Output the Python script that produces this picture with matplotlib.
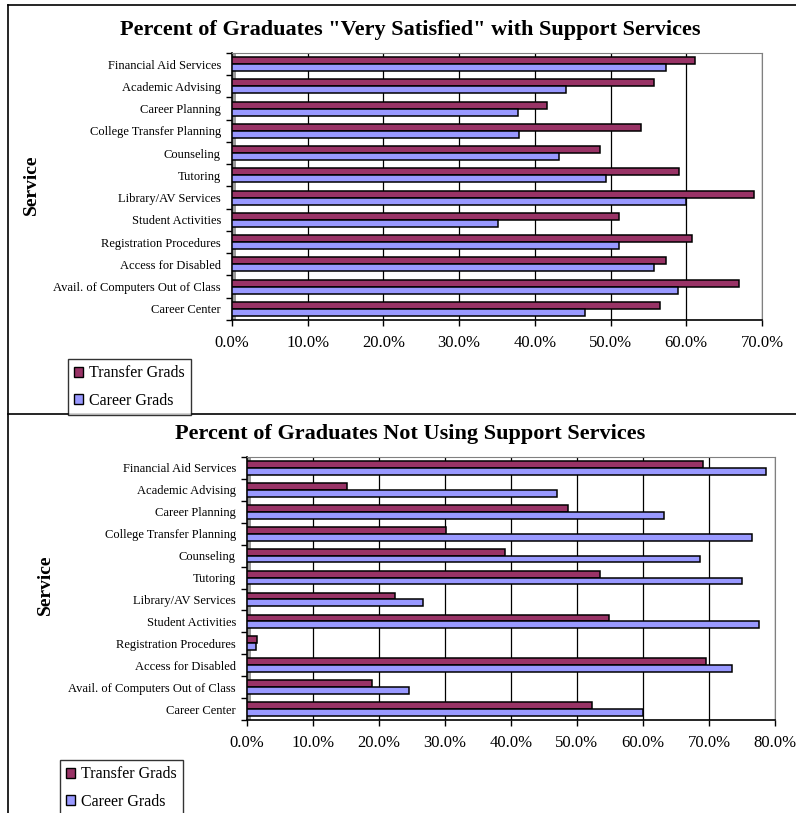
"""Two stacked horizontal bar charts: graduate satisfaction and non-use of support services."""

import matplotlib

matplotlib.use("Agg")

import matplotlib.pyplot as plt
import numpy as np
from matplotlib.lines import Line2D
from matplotlib.patches import Patch, Rectangle
from matplotlib.ticker import FuncFormatter, MultipleLocator

plt.rcParams["font.family"] = ["Liberation Serif", "DejaVu Serif"]

services = [
    "Financial Aid Services",
    "Academic Advising",
    "Career Planning",
    "College Transfer Planning",
    "Counseling",
    "Tutoring",
    "Library/AV Services",
    "Student Activities",
    "Registration Procedures",
    "Access for Disabled",
    "Avail. of Computers Out of Class",
    "Career Center",
]

# percent "very satisfied"
satisfied_transfer = [61.1, 55.8, 41.6, 54.0, 48.6, 59.0, 69.0, 51.1, 60.7, 57.3, 66.9, 56.5]
satisfied_career = [57.3, 44.1, 37.8, 37.9, 43.2, 49.4, 59.9, 35.1, 51.1, 55.8, 58.9, 46.6]

# percent not using the service
not_using_transfer = [69.1, 15.2, 48.7, 30.2, 39.1, 53.5, 22.4, 54.8, 1.5, 69.5, 19.0, 52.2]
not_using_career = [78.6, 46.9, 63.2, 76.5, 68.6, 75.0, 26.6, 77.5, 1.3, 73.5, 24.6, 60.0]

series_names = ["Transfer Grads", "Career Grads"]

TRANSFER_COLOR = "#993366"
CAREER_COLOR = "#9999ff"

W, H = 796, 813


def fx(px):
    return px / W


def fy(py):
    return 1 - py / H


def draw_panel(fig, rect, transfer, career, xmax, title, title_y, ylabel_x, ylabel_y, legend_xy):
    ax = fig.add_axes(rect)
    y = np.arange(len(services))
    h = 0.31
    ax.barh(y - h / 2, transfer, height=h, color=TRANSFER_COLOR, edgecolor="black", linewidth=1.1, zorder=3)
    ax.barh(y + h / 2, career, height=h, color=CAREER_COLOR, edgecolor="black", linewidth=1.1, zorder=3)

    ax.set_xlim(0, xmax)
    ax.set_ylim(len(services) - 0.5, -0.5)
    ax.xaxis.set_major_locator(MultipleLocator(10))
    ax.xaxis.set_major_formatter(FuncFormatter(lambda v, _: f"{v:.1f}%"))
    ax.grid(axis="x", color="black", linewidth=0.9, zorder=0)

    ax.set_yticks(y)
    ax.set_yticklabels(services, fontsize=9)
    ax.set_yticks(np.arange(len(services) + 1) - 0.5, minor=True)
    ax.tick_params(axis="y", which="major", length=0, pad=8)
    ax.tick_params(axis="y", which="minor", length=4, width=1, direction="out")
    ax.tick_params(axis="x", length=4, width=1, direction="out", pad=7, labelsize=12)

    for side in ("top", "right"):
        ax.spines[side].set_color("#808080")
    for side in ("left", "bottom"):
        ax.spines[side].set_color("black")
        ax.spines[side].set_linewidth(1.2)

    # grey side wall of the 3-D plot area
    ax.add_patch(Rectangle((0, 0), 4 / (rect[2] * W), 1, transform=ax.transAxes,
                           facecolor="#9a9a9a", edgecolor="none", zorder=2))

    fig.text(fx(410), fy(title_y), title, ha="center", va="center", fontsize=16, fontweight="bold")
    fig.text(fx(ylabel_x), fy(ylabel_y), "Service", ha="center", va="center", rotation=90,
             fontsize=14, fontweight="bold")

    handles = [
        Patch(facecolor=TRANSFER_COLOR, edgecolor="black", linewidth=1.0),
        Patch(facecolor=CAREER_COLOR, edgecolor="black", linewidth=1.0),
    ]
    leg = fig.legend(handles, series_names, loc="upper left", bbox_to_anchor=legend_xy,
                     fontsize=11.5, frameon=True, fancybox=False, handlelength=0.55, handleheight=0.55,
                     handletextpad=0.35, labelspacing=0.7, borderpad=0.4, borderaxespad=0)
    leg.get_frame().set_edgecolor("black")
    leg.get_frame().set_linewidth(1.0)
    return ax


fig = plt.figure(figsize=(W / 100, H / 100), dpi=100)

draw_panel(
    fig,
    [fx(232), fy(320), fx(762 - 232), (320 - 53) / H],
    satisfied_transfer,
    satisfied_career,
    70,
    'Percent of Graduates "Very Satisfied" with Support Services',
    30,
    31,
    185,
    (fx(68), fy(359)),
)

draw_panel(
    fig,
    [fx(247), fy(720), fx(775 - 247), (720 - 457) / H],
    not_using_transfer,
    not_using_career,
    80,
    "Percent of Graduates Not Using Support Services",
    434,
    45,
    585,
    (fx(60), fy(760)),
)

# outer chart borders
for xs, ys in [([8, 8], [5, 813]), ([8, 796], [5, 5]), ([8, 796], [414, 414])]:
    fig.add_artist(Line2D([fx(v) for v in xs], [fy(v) for v in ys], color="black", linewidth=1.2))

fig.savefig("out.png", dpi=100)
